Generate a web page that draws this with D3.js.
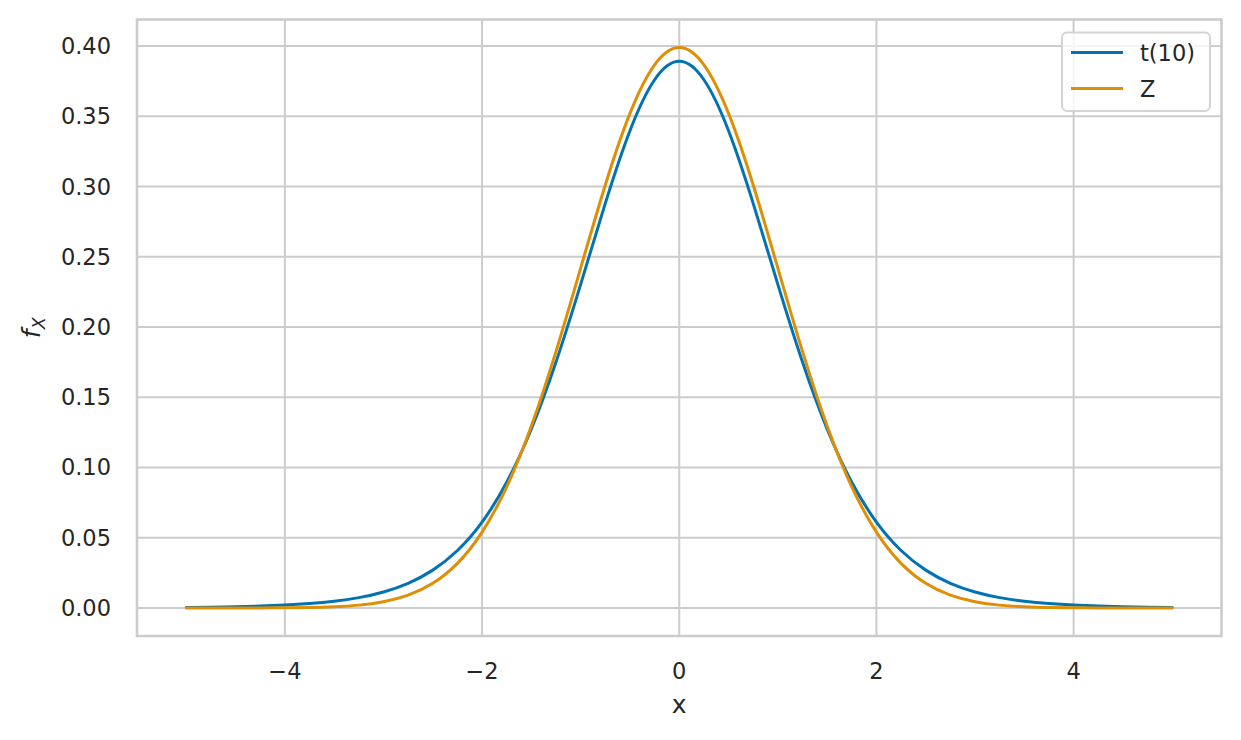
<!DOCTYPE html>
<html><head><meta charset="utf-8">
<script src="https://cdn.jsdelivr.net/npm/d3@7"></script>
<style>body{margin:0;background:#fff;} text{font-family:"DejaVu Sans",sans-serif;fill:#262626;}</style>
</head><body><svg id="c" width="1241" height="740"></svg>
<script>
const xs = [-5,-4.75,-4.5,-4.25,-4,-3.75,-3.5,-3.25,-3,-2.75,-2.5,-2.25,-2,-1.75,-1.5,-1.25,-1,-0.75,-0.5,-0.25,0,0.25,0.5,0.75,1,1.25,1.5,1.75,2,2.25,2.5,2.75,3,3.25,3.5,3.75,4,4.25,4.5,4.75,5];
const tVals = [0.00040,0.00059,0.00088,0.00134,0.00203,0.00311,0.00478,0.00738,0.01140,0.01758,0.02694,0.04090,0.06114,0.08953,0.12744,0.17510,0.23036,0.28798,0.33970,0.37600,0.38911,0.37600,0.33970,0.28798,0.23036,0.17510,0.12744,0.08953,0.06114,0.04090,0.02694,0.01758,0.01140,0.00738,0.00478,0.00311,0.00203,0.00134,0.00088,0.00059,0.00040];
const zVals = [0.0000015,0.00001,0.00002,0.00005,0.00013,0.00035,0.00087,0.00203,0.00443,0.00909,0.01753,0.03174,0.05399,0.08628,0.12952,0.18265,0.24197,0.30114,0.35207,0.38667,0.39894,0.38667,0.35207,0.30114,0.24197,0.18265,0.12952,0.08628,0.05399,0.03174,0.01753,0.00909,0.00443,0.00203,0.00087,0.00035,0.00013,0.00005,0.00002,0.00001,0.0000015];
const xTicks = [-4,-2,0,2,4];
const yTicks = [0,0.05,0.10,0.15,0.20,0.25,0.30,0.35,0.40];
const seriesNames = ["t(10)","Z"];
const colors = ["#0173b2","#de8f05"];

const svg = d3.select("#c");
const L=137,R=1221.5,T=19.5,B=636;
const x = d3.scaleLinear().domain([-5.5,5.5]).range([L,R]);
const y = d3.scaleLinear().domain([-0.01995,0.4189]).range([B,T]);

const g = svg.append("g");
// grid
g.selectAll(".vg").data(xTicks).join("line").attr("x1",d=>x(d)).attr("x2",d=>x(d)).attr("y1",T).attr("y2",B).attr("stroke","#cccccc").attr("stroke-width",2);
g.selectAll(".hg").data(yTicks).join("line").attr("y1",d=>y(d)).attr("y2",d=>y(d)).attr("x1",L).attr("x2",R).attr("stroke","#cccccc").attr("stroke-width",2);
// frame
g.append("rect").attr("x",L).attr("y",T).attr("width",R-L).attr("height",B-T).attr("fill","none").attr("stroke","#cccccc").attr("stroke-width",2.6);

// tick labels
g.selectAll(".xt").data(xTicks).join("text").attr("x",d=>x(d)).attr("y",B+43).attr("text-anchor","middle").attr("font-size","22.5px").text(d=>d<0?"\u2212"+Math.abs(d):d);
g.selectAll(".yt").data(yTicks).join("text").attr("x",L-26).attr("y",d=>y(d)+8).attr("text-anchor","end").attr("font-size","22.5px").text(d=>d.toFixed(2));

// axis labels
svg.append("text").attr("x",(L+R)/2).attr("y",713).attr("text-anchor","middle").attr("font-size","25px").text("x");
const yl = svg.append("text").attr("transform","translate(40,"+((T+B)/2)+") rotate(-90)").attr("text-anchor","middle").attr("font-size","25px");
yl.append("tspan").attr("font-style","italic").text("f");
yl.append("tspan").attr("font-style","italic").attr("font-size","17.5px").attr("dy","5").text("X");

// lines
const series = [tVals,zVals];
const line = d3.line().x((d,i)=>x(xs[i])).y(d=>y(d)).curve(d3.curveNatural);
series.forEach((s,k)=>{
  g.append("path").datum(s).attr("d",line).attr("fill","none").attr("stroke",colors[k]).attr("stroke-width",3).attr("stroke-linecap","round");
});

// legend
const lg = svg.append("g");
lg.append("rect").attr("x",1062).attr("y",32.5).attr("width",148).attr("height",78.5).attr("rx",5).attr("fill","#fff").attr("fill-opacity",0.8).attr("stroke","#d4d4d4").attr("stroke-width",2);
seriesNames.forEach((n,k)=>{
  const yy = 52.5+k*36;
  lg.append("line").attr("x1",1071).attr("x2",1123).attr("y1",yy).attr("y2",yy).attr("stroke",colors[k]).attr("stroke-width",3);
  lg.append("text").attr("x",1140).attr("y",yy+8).attr("font-size","22.5px").text(n);
});
</script></body></html>
